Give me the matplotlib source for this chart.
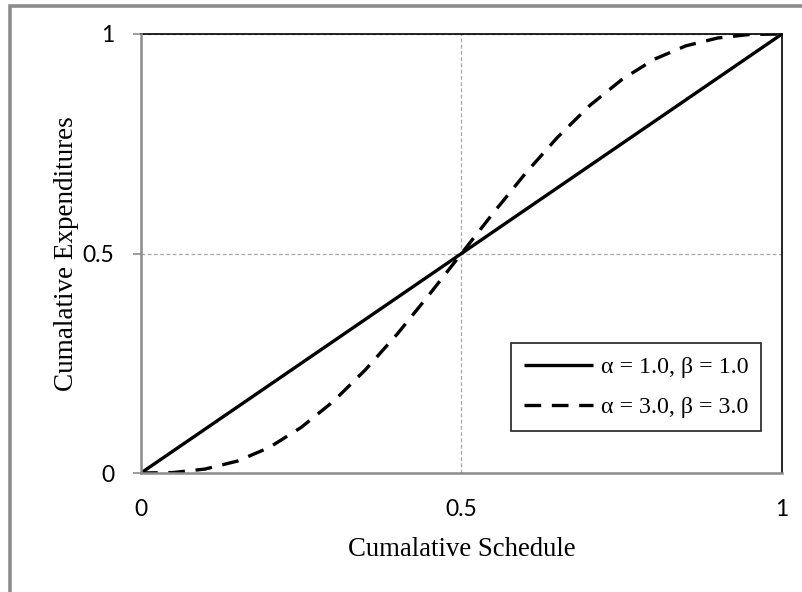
import matplotlib
matplotlib.use('Agg')
import matplotlib.pyplot as plt
from matplotlib.patches import Rectangle

# values
sched = [0, 0.05, 0.1, 0.15, 0.2, 0.25, 0.3, 0.35, 0.4, 0.45, 0.5,
         0.55, 0.6, 0.65, 0.7, 0.75, 0.8, 0.85, 0.9, 0.95, 1]
exp_11 = [0, 0.05, 0.1, 0.15, 0.2, 0.25, 0.3, 0.35, 0.4, 0.45, 0.5,
          0.55, 0.6, 0.65, 0.7, 0.75, 0.8, 0.85, 0.9, 0.95, 1]
exp_33 = [0, 0.001, 0.009, 0.027, 0.058, 0.104, 0.163, 0.235, 0.317, 0.407, 0.5,
          0.593, 0.683, 0.765, 0.837, 0.896, 0.942, 0.973, 0.991, 0.999, 1]
ticks = [0, 0.5, 1]
tick_labels = ['0', '0.5', '1']
names = ['α = 1.0, β = 1.0', 'α = 3.0, β = 3.0']

W, H = 803, 592
fig = plt.figure(figsize=(W / 100, H / 100), dpi=100)
ax = fig.add_axes([141 / W, 1 - 473 / H, (782 - 141) / W, (473 - 34) / H])

# chart frame (only left/top visible)
fig.patches.append(Rectangle((10 / W, -0.05), 1.2, 1 - 6 / H + 0.05, transform=fig.transFigure,
                             fill=False, edgecolor='#8c8c8c', linewidth=2.6, zorder=0))

ax.plot(sched, exp_11, color='black', lw=2.4, solid_capstyle='butt', label=names[0], zorder=3)
ax.plot(sched, exp_33, color='black', lw=2.4, dashes=(5, 3.2), label=names[1], zorder=3)

ax.set_xlim(0, 1)
ax.set_ylim(0, 1)
ax.set_xticks(ticks)
ax.set_xticklabels(tick_labels)
ax.set_yticks(ticks)
ax.set_yticklabels(tick_labels)
ax.grid(True, color='#a6a6a6', linestyle=(0, (3, 2)), linewidth=0.9)

for s in ['left', 'bottom']:
    ax.spines[s].set_color('#8c8c8c')
    ax.spines[s].set_linewidth(1.8)
for s in ['top', 'right']:
    ax.spines[s].set_color('black')
    ax.spines[s].set_linewidth(1.2)
ax.spines['left'].set_zorder(4)
ax.spines['bottom'].set_zorder(4)

ax.tick_params(axis='y', length=6, width=1.2, color='#8c8c8c', pad=13,
               labelsize=16.5)
ax.tick_params(axis='x', length=0, pad=19, labelsize=16.5)
for lab in ax.get_xticklabels() + ax.get_yticklabels():
    lab.set_family('Lato')

serif = ['Liberation Serif', 'DejaVu Serif']
ax.set_xlabel('Cumalative Schedule', family=serif, fontsize=19.3, labelpad=12)
ax.set_ylabel('Cumalative Expenditures', family=serif, fontsize=19.5, labelpad=3)

leg = ax.legend(loc='upper left', bbox_to_anchor=((511 - 141) / 641, (473 - 343) / 439),
                prop={'family': serif, 'size': 17.2}, frameon=True, fancybox=False,
                edgecolor='black', handlelength=2.9, handletextpad=0.3,
                labelspacing=0.78, borderpad=0.55, borderaxespad=0)
leg.get_frame().set_linewidth(1.3)

fig.savefig('out.png', dpi=100)
